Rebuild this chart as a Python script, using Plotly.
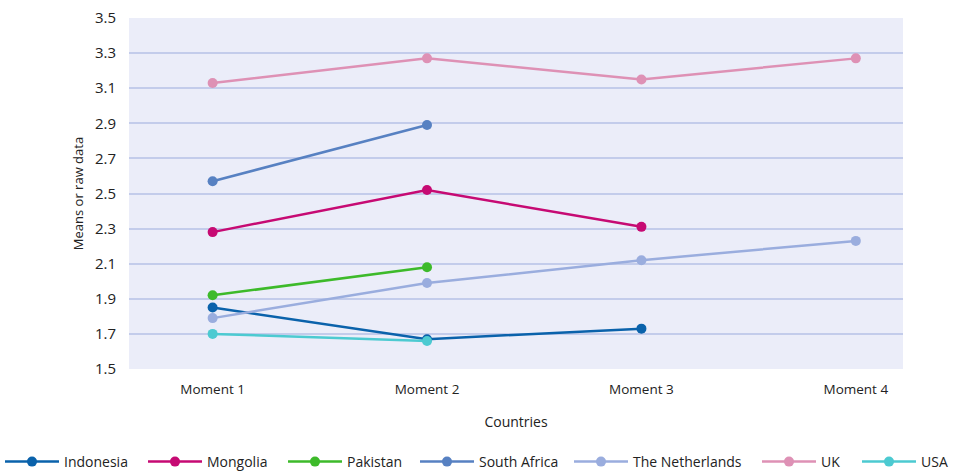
import plotly.graph_objects as go

# Measurement moments (x categories)
moments = ["Moment 1", "Moment 2", "Moment 3", "Moment 4"]

# Means per country at each moment
indonesia = [1.85, 1.67, 1.73]
mongolia = [2.28, 2.52, 2.31]
pakistan = [1.92, 2.08]
south_africa = [2.57, 2.89]
netherlands = [1.79, 1.99, 2.12, 2.23]
uk = [3.13, 3.27, 3.15, 3.27]
usa = [1.70, 1.66]

y_ticks = [1.5, 1.7, 1.9, 2.1, 2.3, 2.5, 2.7, 2.9, 3.1, 3.3, 3.5]

series = [
    ("Indonesia", indonesia, "#0a62ab"),
    ("Mongolia", mongolia, "#c60a73"),
    ("Pakistan", pakistan, "#3dba2a"),
    ("South Africa", south_africa, "#5781c2"),
    ("The Netherlands", netherlands, "#9aadde"),
    ("UK", uk, "#de91b5"),
    ("USA", usa, "#4ccad1"),
]

# Left edge (px) of each legend entry along the bottom row
legend_left_px = [5, 148, 288, 420, 574, 762, 862]

W, H = 954, 472
font_family = "Open Sans, Noto Sans, sans-serif"

fig = go.Figure()
legend_layouts = {}
for i, (name, vals, color) in enumerate(series):
    key = "legend" if i == 0 else f"legend{i + 1}"
    fig.add_trace(go.Scatter(
        x=moments[:len(vals)], y=vals, name=name, mode="lines+markers",
        legend=key,
        line=dict(color=color, width=2.5),
        marker=dict(color=color, size=10),
    ))
    legend_layouts[key] = dict(
        orientation="h", xref="container", yref="container",
        x=(legend_left_px[i] - 5) / W, xanchor="left",
        y=(H - 462) / H, yanchor="middle",
        font=dict(size=14, family=font_family, color="#222222"),
        itemwidth=54, bgcolor="rgba(0,0,0,0)",
    )

fig.update_layout(
    width=W, height=H,
    margin=dict(l=129, r=51, t=18, b=103, autoexpand=False),
    paper_bgcolor="white",
    plot_bgcolor="#ebedf9",
    font=dict(family=font_family, size=13, color="#222222"),
    showlegend=True,
    xaxis=dict(
        type="category", range=[-0.39, 3.22],
        showgrid=False, zeroline=False, showline=False,
        ticks="", tickfont=dict(size=13.5), ticklabelstandoff=10,
        title=dict(text="Countries", font=dict(size=14), standoff=20),
    ),
    yaxis=dict(
        range=[1.5, 3.5], tickvals=y_ticks,
        ticktext=[f"{v:.1f}" for v in y_ticks],
        showgrid=True, gridcolor="#c3cceb", gridwidth=2,
        zeroline=False, showline=False, ticks="",
        tickfont=dict(size=15), ticklabelstandoff=12,
        title=dict(text="Means or raw data", font=dict(size=13), standoff=8),
    ),
    **legend_layouts,
)

fig.write_html("out.html")
